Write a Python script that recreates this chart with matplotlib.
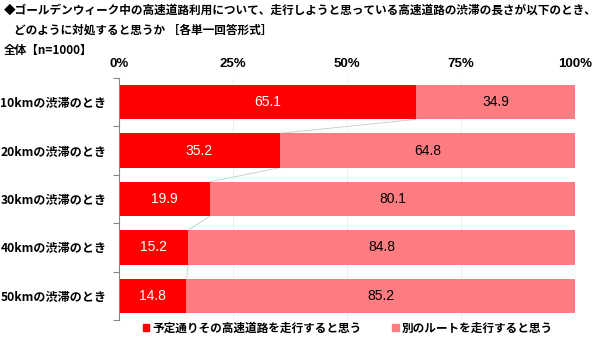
import matplotlib
matplotlib.use("Agg")
import matplotlib.pyplot as plt
import numpy as np

plt.rcParams['font.family'] = ['Noto Sans CJK JP', 'DejaVu Sans']
num_font = ['Liberation Sans', 'DejaVu Sans']

# data
categories = ['10kmの渋滞のとき', '20kmの渋滞のとき', '30kmの渋滞のとき',
              '40kmの渋滞のとき', '50kmの渋滞のとき']
same_route = [65.1, 35.2, 19.9, 15.2, 14.8]
other_route = [34.9, 64.8, 80.1, 84.8, 85.2]
series_names = ['予定通りその高速道路を走行すると思う', '別のルートを走行すると思う']
colors = ['#FF0000', '#FF7C80']

fig = plt.figure(figsize=(6, 3.51), dpi=100)
ax = fig.add_axes([119 / 600, 1 - 320 / 351, 456 / 600, 242 / 351])

y = np.arange(len(categories))
h = 0.71
ax.barh(y, same_route, height=h, color=colors[0], zorder=2)
ax.barh(y, other_route, left=same_route, height=h, color=colors[1], zorder=2)

# series lines between bars
for i in range(len(y) - 1):
    ax.plot([same_route[i], same_route[i + 1]], [y[i] + h / 2, y[i + 1] - h / 2],
            color='#c8c8c8', lw=0.6, zorder=1)

for i in range(len(y)):
    ax.text(same_route[i] / 2, y[i], f'{same_route[i]:.1f}', ha='center', va='center',
            color='white', fontsize=10, family=num_font)
    ax.text(same_route[i] + other_route[i] / 2, y[i], f'{other_route[i]:.1f}',
            ha='center', va='center', color='black', fontsize=10, family=num_font)

ax.set_xlim(0, 100)
ax.set_ylim(len(y) - 0.5, -0.5)
ax.set_xticks([0, 25, 50, 75, 100])
ax.set_xticklabels(['0%', '25%', '50%', '75%', '100%'], fontsize=9.5,
                   fontweight='bold', family=num_font)
ax.xaxis.tick_top()
ax.tick_params(axis='x', length=0, pad=6)
ax.grid(axis='x', color='#ececec', lw=0.6, zorder=0)

ax.set_yticks(y)
ax.set_yticklabels(categories, fontsize=8.7, fontweight='bold')
ax.set_yticks(np.arange(len(y) + 1) - 0.5, minor=True)
ax.tick_params(axis='y', which='major', length=0, pad=9)
ax.tick_params(axis='y', which='minor', length=4, color='#888888', width=0.8)

for s in ['top', 'right', 'bottom']:
    ax.spines[s].set_visible(False)
ax.spines['left'].set_color('#888888')
ax.spines['left'].set_linewidth(0.8)

fig.text(4 / 600, 1 - 10 / 351,
         '◆ゴールデンウィーク中の高速道路利用について、走行しようと思っている高速道路の渋滞の長さが以下のとき、',
         fontsize=8.4, fontweight='bold', va='center', ha='left')
fig.text(14 / 600, 1 - 30 / 351, 'どのように対処すると思うか ［各単一回答形式］',
         fontsize=8.4, fontweight='bold', va='center', ha='left')
fig.text(4 / 600, 1 - 50 / 351, '全体【n=1000】',
         fontsize=8.4, fontweight='bold', va='center', ha='left')

handles = [plt.Rectangle((0, 0), 1, 1, color=c) for c in colors]
fig.legend(handles, series_names, loc='center', bbox_to_anchor=(348 / 600, 1 - 328 / 351),
           ncol=2, frameon=False, prop={'weight': 'bold', 'size': 8.4},
           handlelength=0.55, handleheight=0.55, handletextpad=0.3, columnspacing=2.6)

fig.savefig('out.png', dpi=100)
